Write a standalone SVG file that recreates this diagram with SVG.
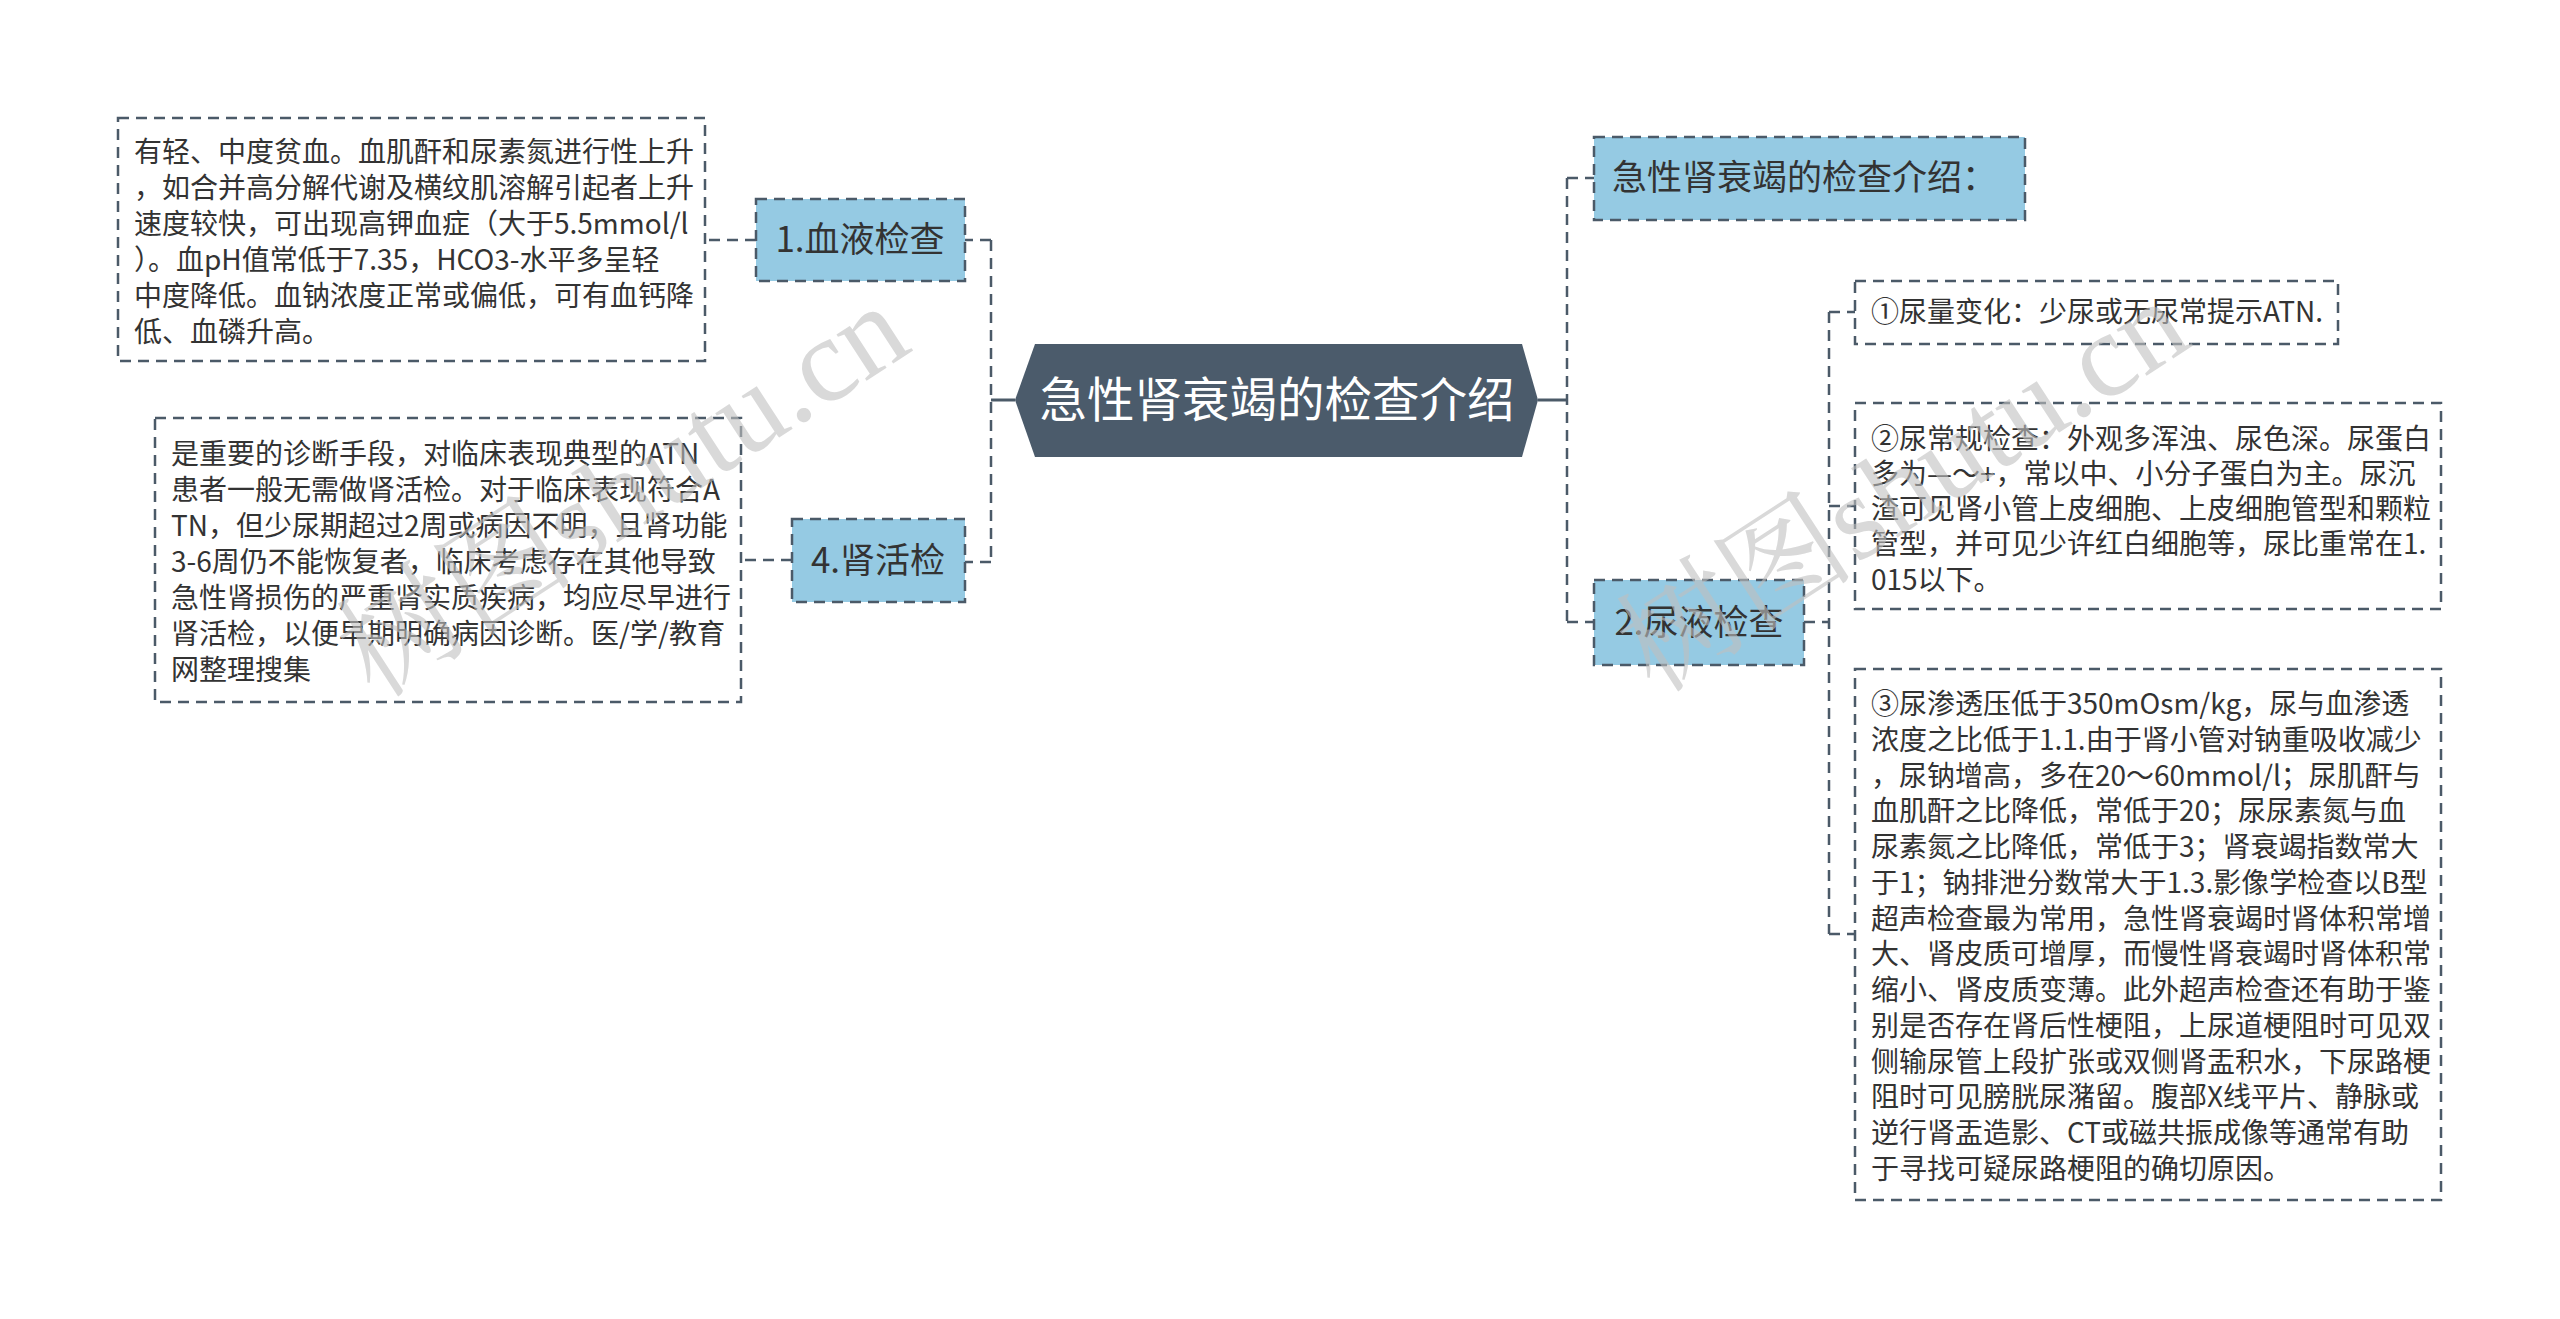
<svg xmlns="http://www.w3.org/2000/svg" width="2560" height="1319" viewBox="0 0 2560 1319">
<style>
.bg{fill:#ffffff}
.dash{fill:none;stroke:#4b5a68;stroke-width:2.5;stroke-dasharray:11 7}
.solid{fill:none;stroke:#4b5a68;stroke-width:3}
.topic{fill:#95cae3;stroke:#4b5a68;stroke-width:2.5;stroke-dasharray:11 7}
.note{fill:#ffffff;stroke:#4b5a68;stroke-width:2.5;stroke-dasharray:11 7}
.t{font-family:"Noto Sans CJK SC","Noto Sans",sans-serif;fill:#333333}
.tb{font-size:28px}
.tt{font-size:35px}
.wm{font-family:"Liberation Serif","Noto Serif CJK SC","Noto Sans CJK SC",serif;font-size:120px;fill:#c0c0c0;opacity:0.6}
</style>
<rect class="bg" x="0" y="0" width="2560" height="1319"/>

<g id="connectors">
  <path class="solid" d="M1015 400 H991"/>
  <path class="dash" d="M991 240 V562"/>
  <path class="dash" d="M991 240 H965"/>
  <path class="dash" d="M991 562 H965"/>
  <path class="dash" d="M756 240 H705"/>
  <path class="dash" d="M792 560 H741"/>
  <path class="solid" d="M1538 400 H1567"/>
  <path class="dash" d="M1567 178 V622"/>
  <path class="dash" d="M1567 178 H1594"/>
  <path class="dash" d="M1567 622 H1594"/>
  <path class="dash" d="M1804 622 H1829"/>
  <path class="dash" d="M1829 312 V934"/>
  <path class="dash" d="M1829 312 H1855"/>
  <path class="dash" d="M1829 506 H1855"/>
  <path class="dash" d="M1829 934 H1855"/>
</g>

<g id="root">
  <polygon points="1035,344 1522,344 1538,400 1522,457 1035,457 1015,400" fill="#4b5b6b"/>
  <text x="1277" y="417" text-anchor="middle" font-family="Noto Sans CJK SC, sans-serif" font-size="47.5" fill="#ffffff">急性肾衰竭的检查介绍</text>
</g>

<g id="n-blood">
  <rect class="topic" x="756" y="199" width="209" height="82"/>
  <text class="t tt" x="860" y="252" text-anchor="middle">1.血液检查</text>
</g>

<g id="n-blood-note">
  <rect class="note" x="118" y="118" width="587" height="243"/>
  <text class="t tb" x="134" y="162">
    <tspan x="134" y="162">有轻、中度贫血。血肌酐和尿素氮进行性上升</tspan>
    <tspan x="134" y="198">，如合并高分解代谢及横纹肌溶解引起者上升</tspan>
    <tspan x="134" y="234">速度较快，可出现高钾血症（大于5.5mmol/l</tspan>
    <tspan x="134" y="270">）。血pH值常低于7.35，HCO3-水平多呈轻</tspan>
    <tspan x="134" y="306">中度降低。血钠浓度正常或偏低，可有血钙降</tspan>
    <tspan x="134" y="342">低、血磷升高。</tspan>
  </text>
</g>

<g id="n-biopsy">
  <rect class="topic" x="792" y="519" width="173" height="83"/>
  <text class="t tt" x="878" y="573" text-anchor="middle">4.肾活检</text>
</g>

<g id="n-biopsy-note">
  <rect class="note" x="155" y="418" width="586" height="284"/>
  <text class="t tb">
    <tspan x="171" y="464">是重要的诊断手段，对临床表现典型的ATN</tspan>
    <tspan x="171" y="500">患者一般无需做肾活检。对于临床表现符合A</tspan>
    <tspan x="171" y="536">TN，但少尿期超过2周或病因不明，且肾功能</tspan>
    <tspan x="171" y="572">3-6周仍不能恢复者，临床考虑存在其他导致</tspan>
    <tspan x="171" y="608">急性肾损伤的严重肾实质疾病，均应尽早进行</tspan>
    <tspan x="171" y="644">肾活检，以便早期明确病因诊断。医/学/教育</tspan>
    <tspan x="171" y="680">网整理搜集</tspan>
  </text>
</g>

<g id="n-intro">
  <rect class="topic" x="1594" y="137" width="431" height="83"/>
  <text class="t tt" x="1612" y="190">急性肾衰竭的检查介绍：</text>
</g>

<g id="n-urine">
  <rect class="topic" x="1594" y="580" width="210" height="85"/>
  <text class="t tt" x="1699" y="635" text-anchor="middle">2.尿液检查</text>
</g>

<g id="n-urine-1">
  <rect class="note" x="1855" y="281" width="483" height="63"/>
  <text class="t tb" x="1871" y="322">①尿量变化：少尿或无尿常提示ATN.</text>
</g>

<g id="n-urine-2">
  <rect class="note" x="1855" y="403" width="586" height="206"/>
  <text class="t tb">
    <tspan x="1871" y="449">②尿常规检查：外观多浑浊、尿色深。尿蛋白</tspan>
    <tspan x="1871" y="484">多为—～+，常以中、小分子蛋白为主。尿沉</tspan>
    <tspan x="1871" y="519">渣可见肾小管上皮细胞、上皮细胞管型和颗粒</tspan>
    <tspan x="1871" y="554">管型，并可见少许红白细胞等，尿比重常在1.</tspan>
    <tspan x="1871" y="590">015以下。</tspan>
  </text>
</g>

<g id="n-urine-3">
  <rect class="note" x="1855" y="669" width="586" height="531"/>
  <text class="t tb">
    <tspan x="1871" y="714">③尿渗透压低于350mOsm/kg，尿与血渗透</tspan>
    <tspan x="1871" y="750">浓度之比低于1.1.由于肾小管对钠重吸收减少</tspan>
    <tspan x="1871" y="786">，尿钠增高，多在20～60mmol/l；尿肌酐与</tspan>
    <tspan x="1871" y="821">血肌酐之比降低，常低于20；尿尿素氮与血</tspan>
    <tspan x="1871" y="857">尿素氮之比降低，常低于3；肾衰竭指数常大</tspan>
    <tspan x="1871" y="893">于1；钠排泄分数常大于1.3.影像学检查以B型</tspan>
    <tspan x="1871" y="929">超声检查最为常用，急性肾衰竭时肾体积常增</tspan>
    <tspan x="1871" y="964">大、肾皮质可增厚，而慢性肾衰竭时肾体积常</tspan>
    <tspan x="1871" y="1000">缩小、肾皮质变薄。此外超声检查还有助于鉴</tspan>
    <tspan x="1871" y="1036">别是否存在肾后性梗阻，上尿道梗阻时可见双</tspan>
    <tspan x="1871" y="1072">侧输尿管上段扩张或双侧肾盂积水，下尿路梗</tspan>
    <tspan x="1871" y="1107">阻时可见膀胱尿潴留。腹部X线平片、静脉或</tspan>
    <tspan x="1871" y="1143">逆行肾盂造影、CT或磁共振成像等通常有助</tspan>
    <tspan x="1871" y="1179">于寻找可疑尿路梗阻的确切原因。</tspan>
  </text>
</g>

<g id="watermarks">
  <text class="wm" transform="translate(375,700) rotate(-33)">树图shutu.cn</text>
  <text class="wm" transform="translate(1655,695) rotate(-33)">树图shutu.cn</text>
</g>
</svg>
